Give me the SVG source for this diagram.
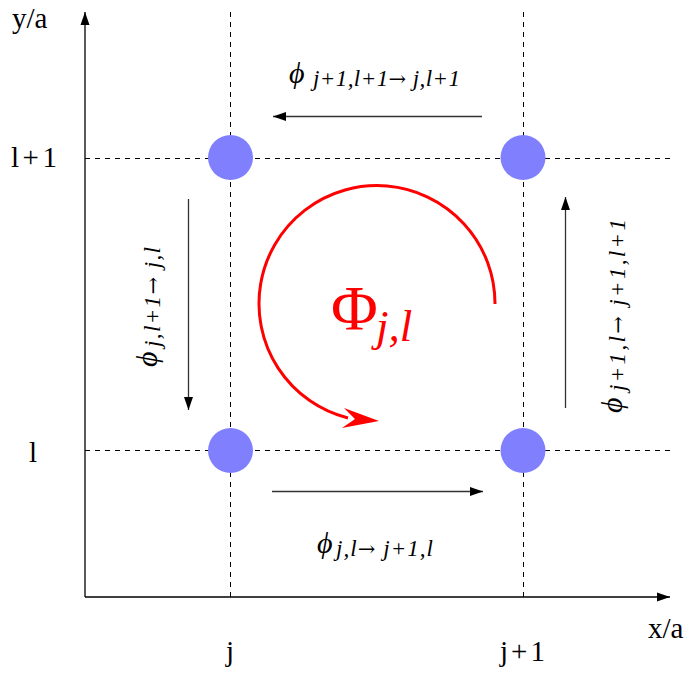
<svg xmlns="http://www.w3.org/2000/svg" width="695" height="673" viewBox="0 0 695 673">
<defs>
<marker id="ah" markerWidth="14" markerHeight="10" refX="13" refY="5" orient="auto" markerUnits="userSpaceOnUse">
<path d="M0,0.5 L13,5 L0,9.5 Z" fill="#000"/>
</marker>
<style>
.t{font-family:"Liberation Serif","Times New Roman",serif;fill:#000}
.i{font-style:italic}
.arw{font-family:"DejaVu Serif",serif;font-style:normal}
.dash{stroke:#000;stroke-width:1;stroke-dasharray:5 5;fill:none}
.ax{stroke:#000;stroke-width:1.3;fill:none}
.ar{stroke:#333;stroke-width:1.3;fill:none;marker-end:url(#ah)}
.dot{fill:#8080ff}
</style>
</defs>
<rect width="695" height="673" fill="#fff"/>
<g id="grid">
<line class="dash" x1="230.5" y1="12" x2="230.5" y2="597"/>
<line class="dash" x1="523.5" y1="12" x2="523.5" y2="597"/>
<line class="dash" x1="85" y1="158.5" x2="670" y2="158.5"/>
<line class="dash" x1="85" y1="450.5" x2="670" y2="450.5"/>
</g>
<g id="axes">
<line class="ax" x1="85" y1="597" x2="85" y2="12" marker-end="url(#ah)"/>
<line class="ax" x1="85" y1="597" x2="670" y2="597" marker-end="url(#ah)"/>
<text class="t" x="12" y="28" font-size="29">y/a</text>
<text class="t" x="648" y="638" font-size="29">x/a</text>
<text class="t" x="11" y="167" font-size="29" textLength="46">l+1</text>
<text class="t" x="29" y="462" font-size="29">l</text>
<text class="t" x="230" y="661" font-size="29" text-anchor="middle">j</text>
<text class="t" x="500" y="661" font-size="29" textLength="45">j+1</text>
</g>
<g id="node-j-l1"><circle class="dot" cx="230.5" cy="157.5" r="22.5"/></g>
<g id="node-j1-l1"><circle class="dot" cx="523" cy="157.5" r="22.5"/></g>
<g id="node-j-l"><circle class="dot" cx="230.5" cy="450.5" r="22.5"/></g>
<g id="node-j1-l"><circle class="dot" cx="523" cy="450.5" r="22.5"/></g>
<g id="connectors">
<line class="ar" x1="482" y1="116.5" x2="273" y2="116.5"/>
<line class="ar" x1="188.5" y1="199" x2="188.5" y2="410"/>
<line class="ar" x1="565.5" y1="408" x2="565.5" y2="197"/>
<line class="ar" x1="272" y1="491.5" x2="483" y2="491.5"/>
</g>
<g id="labels">
<text class="t i" x="289" y="83" font-size="30">ϕ</text>
<text class="t i" x="313" y="86" font-size="23" textLength="147" lengthAdjust="spacing">j+1,l+1<tspan class="arw" font-size="21">→</tspan> j,l+1</text>
<text class="t i" x="317" y="553" font-size="30">ϕ</text>
<text class="t i" x="336" y="556" font-size="23" textLength="97" lengthAdjust="spacing">j,l<tspan class="arw" font-size="21">→</tspan> j+1,l</text>
<g transform="translate(157,367) rotate(-90)">
<text class="t i" x="0" y="0" font-size="30">ϕ</text>
<text class="t i" x="20" y="3" font-size="23" textLength="100" lengthAdjust="spacing">j,l+1<tspan class="arw" font-size="21">→</tspan> j,l</text>
</g>
<g transform="translate(622,413) rotate(-90)">
<text class="t i" x="0" y="0" font-size="30">ϕ</text>
<text class="t i" x="22" y="3" font-size="23" textLength="172" lengthAdjust="spacing">j+1,l<tspan class="arw" font-size="21">→</tspan> j+1,l+1</text>
</g>
</g>
<g id="flux">
<path d="M495,304 A118,118 0 1 0 348,418" fill="none" stroke="#ff0000" stroke-width="3"/>
<path d="M379,421 L344,408 L355,419 L342,428 Z" fill="#ff0000"/>
<text x="331" y="330" font-size="64" fill="#ff0000" font-family="Liberation Serif,serif">Φ</text>
<text x="376" y="341" font-size="45" fill="#ff0000" font-style="italic" font-family="Liberation Serif,serif">j,l</text>
</g>
</svg>
